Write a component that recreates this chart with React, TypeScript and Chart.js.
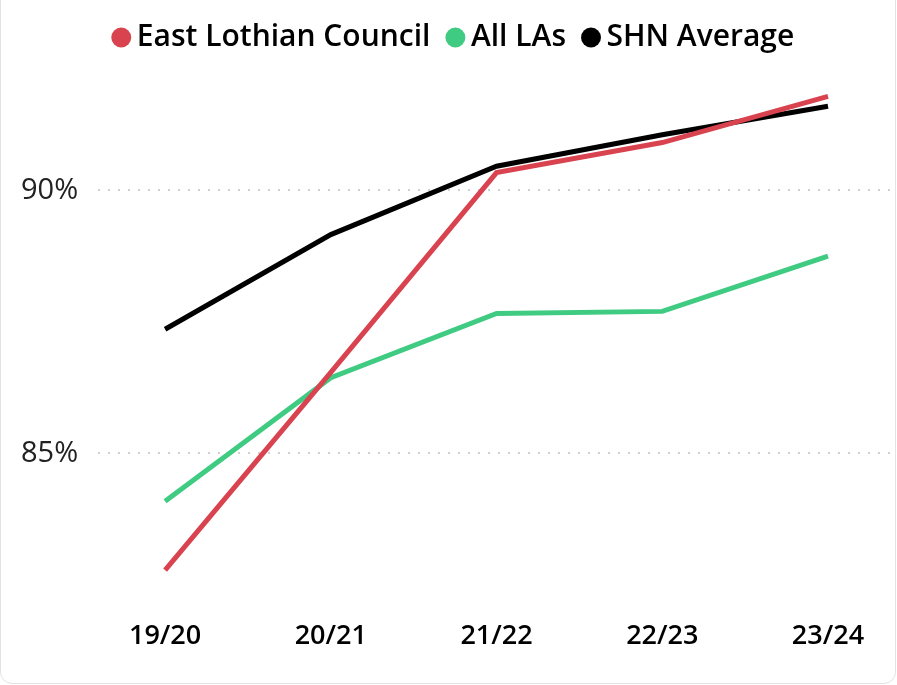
import React, { useEffect, useRef } from "react";
import { Chart, registerables } from "chart.js";

Chart.register(...registerables);

const categories = ["19/20", "20/21", "21/22", "22/23", "23/24"];
const eastLothian = [82.78, 86.54, 90.34, 90.91, 91.79];
const allLAs = [84.09, 86.44, 87.66, 87.7, 88.75];
const shnAverage = [87.36, 89.16, 90.46, 91.06, 91.6];
const yTicks = [85, 90];

const RED = "#D9434F";
const GREEN = "#40CB82";
const BLACK = "#000000";
const FONT = "'Open Sans', 'Noto Sans', sans-serif";

export default function App() {
  const ref = useRef<HTMLCanvasElement>(null);
  useEffect(() => {
    document.body.style.margin = "0";
    const toPts = (arr: number[]) => arr.map((v, i) => ({ x: i, y: v }));
    const mk = (label: string, data: number[], color: string) => ({
      label,
      data: toPts(data),
      borderColor: color,
      backgroundColor: color,
      borderWidth: 5,
      pointRadius: 0,
      pointHoverRadius: 0,
      pointStyle: "circle" as const,
      tension: 0,
    });
    const legendTweak = {
      id: "legendTweak",
      beforeInit(chart: any) {
        const lg = chart.legend;
        if (!lg) return;
        const origFit = lg.fit;
        lg.fit = function () {
          origFit.call(this);
          this.height += 8.5;
        };
        const origDraw = lg.draw;
        lg.draw = function (...args: any[]) {
          const ctx = chart.ctx;
          ctx.save();
          ctx.translate(12, -9);
          origDraw.apply(this, args);
          ctx.restore();
        };
      },
    };
    const chart = new Chart(ref.current!, {
      type: "line",
      data: {
        datasets: [
          mk("East Lothian Council", eastLothian, RED),
          mk("All LAs", allLAs, GREEN),
          mk("SHN Average", shnAverage, BLACK),
        ],
      },
      plugins: [legendTweak],
      options: {
        animation: false,
        responsive: false,
        layout: { padding: { left: 1, right: 7, top: 7, bottom: 12 } },
        plugins: {
          tooltip: { enabled: false },
          legend: {
            position: "top",
            align: "center",
            labels: {
              usePointStyle: true,
              boxWidth: 1,
              boxHeight: 14.1,
              padding: 24.5,
              color: "#000",
              font: { family: FONT, size: 30, weight: 600 },
              generateLabels: (c: any) =>
                Chart.defaults.plugins.legend.labels
                  .generateLabels(c)
                  .map((l: any) => ({ ...l, lineWidth: 0 })),
            },
          },
        },
        scales: {
          x: {
            type: "linear",
            min: -0.404,
            max: 4.374,
            grid: { display: false, drawTicks: false },
            border: { display: false },
            afterBuildTicks: (s: any) => {
              s.ticks = categories.map((_, i) => ({ value: i }));
            },
            ticks: {
              padding: 20,
              color: "#000",
              font: { family: FONT, size: 27, weight: 600 },
              callback: (v: any) => categories[v] ?? "",
            },
          },
          y: {
            min: 82.2,
            max: 92.1,
            afterBuildTicks: (s: any) => {
              s.ticks = yTicks.map((v) => ({ value: v }));
            },
            grid: {
              color: "#d0d0d0",
              lineWidth: 2,
              drawTicks: false,
            },
            border: { display: false, dash: [2, 8] },
            ticks: {
              padding: 20,
              color: "#222",
              font: { family: FONT, size: 29 },
              callback: (v: any) => v + "%",
            },
          },
        },
      },
    });
    return () => chart.destroy();
  }, []);
  return (
    <div style={{ position: "relative", width: 897, height: 685, overflow: "hidden", background: "#fff" }}>
      <div
        style={{
          position: "absolute",
          left: 0,
          top: -20,
          width: 896,
          height: 704,
          border: "1px solid #e3e3e3",
          borderRadius: 12,
          boxSizing: "border-box",
        }}
      />
      <canvas ref={ref} width={897} height={685} style={{ position: "absolute", left: 0, top: 0 }} />
    </div>
  );
}
